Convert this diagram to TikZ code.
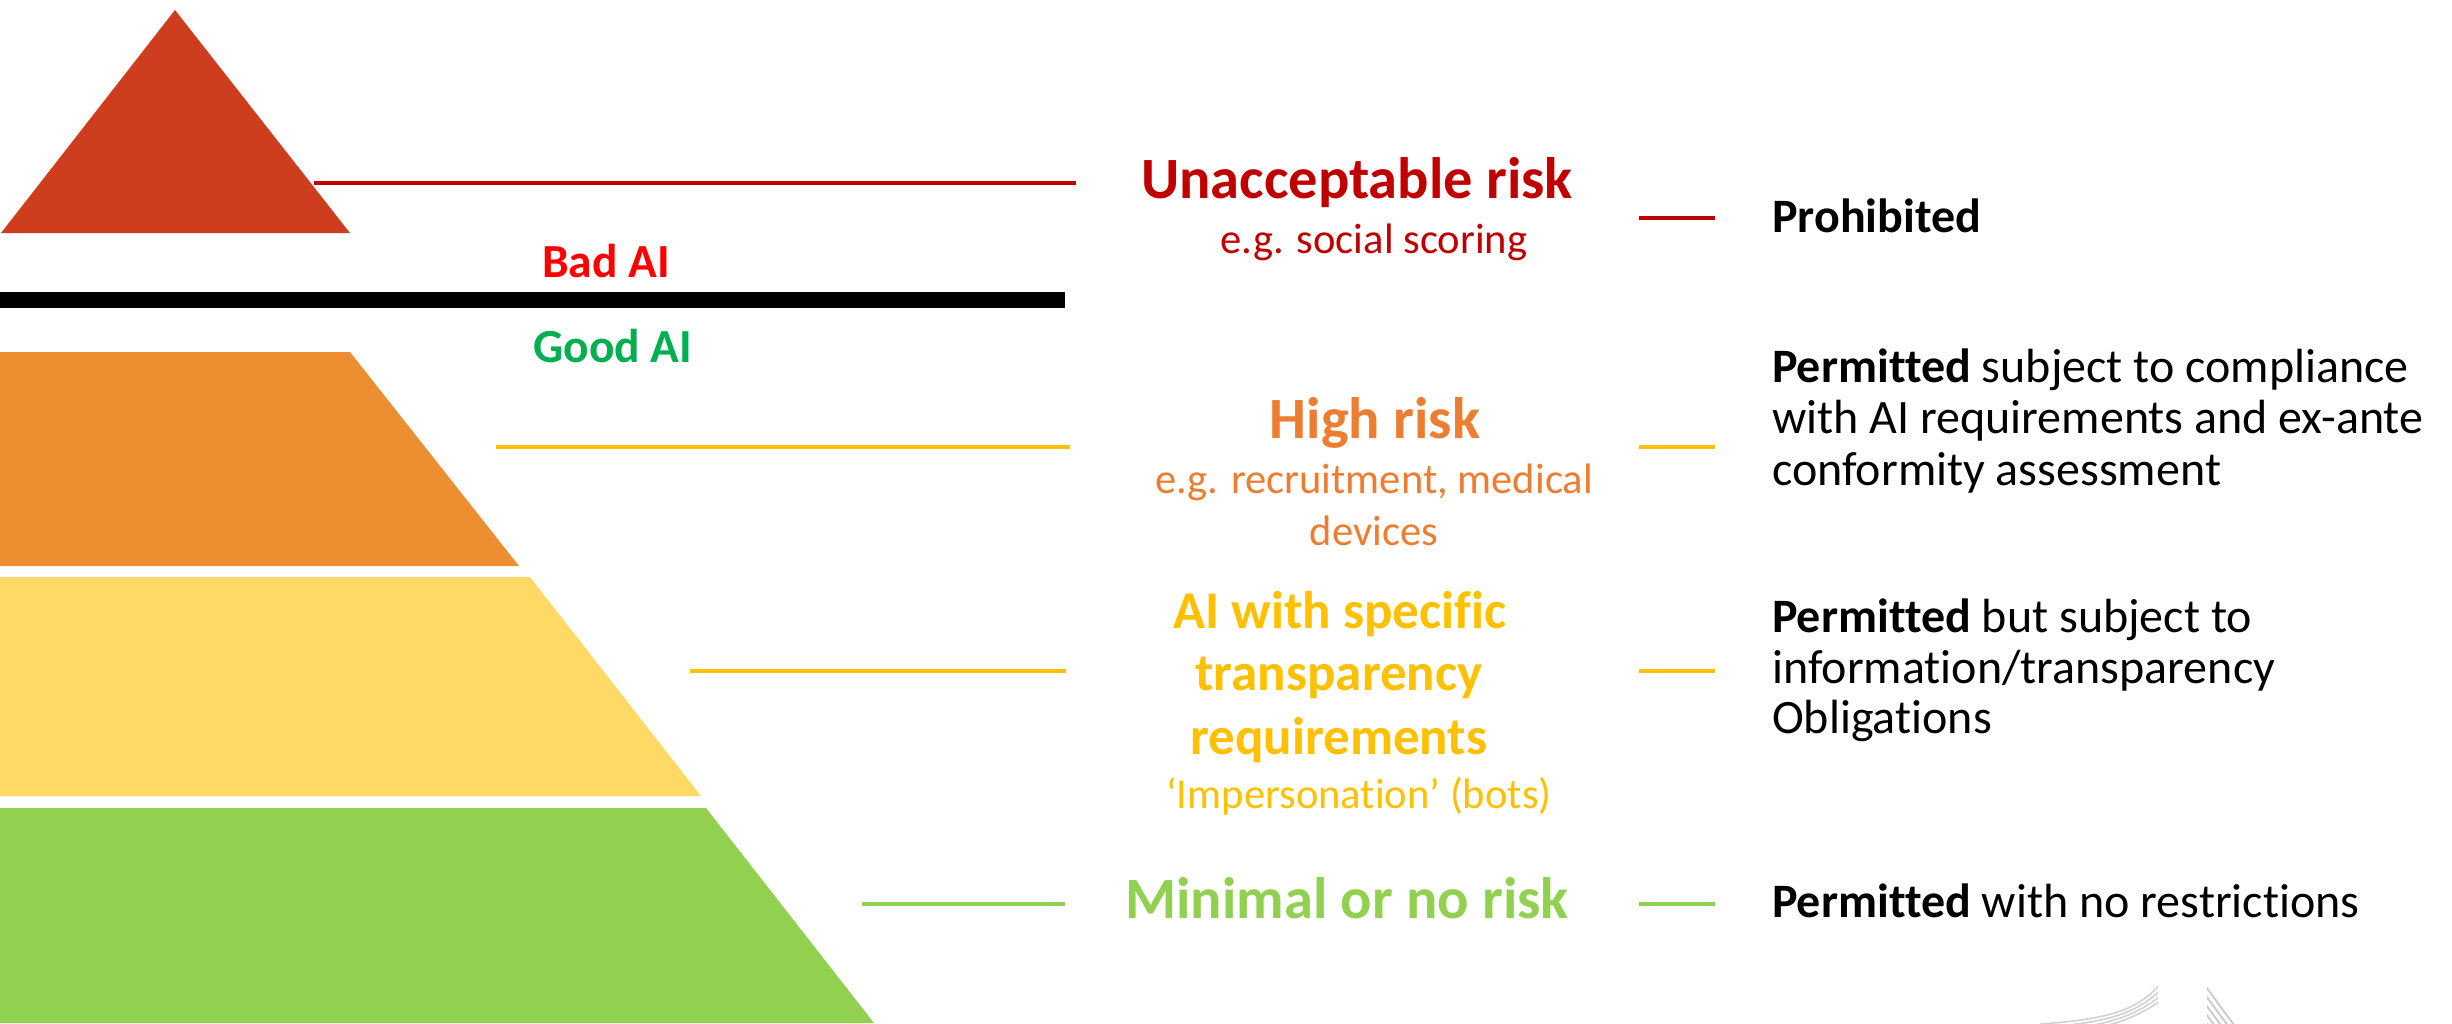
\documentclass[tikz,border=0pt]{standalone}
\usepackage{fontspec}
\setmainfont{Carlito}[Ligatures={NoCommon}]
\definecolor{tri}{RGB}{207,61,31}
\definecolor{darkred}{RGB}{192,0,0}
\definecolor{badred}{RGB}{255,0,0}
\definecolor{goodgreen}{RGB}{0,176,80}
\definecolor{orangefill}{RGB}{237,142,49}
\definecolor{orangetext}{RGB}{237,125,49}
\definecolor{yellowfill}{RGB}{254,217,102}
\definecolor{gold}{RGB}{255,192,0}
\definecolor{lgreen}{RGB}{146,208,80}
\newcommand{\fsz}[1]{\fontsize{#1}{#1}\selectfont}
\begin{document}
\begin{tikzpicture}[x=1pt,y=-1pt,
  txt/.style={inner sep=0pt, anchor=base},
  rtxt/.style={inner sep=0pt, anchor=base west, font=\fsz{48}},
  title/.style={txt, font=\fsz{#1}\bfseries},
  sub/.style={txt, font=\fsz{42.6}},
  link/.style={line width=4pt}]
\useasboundingbox (0,0) rectangle (2452,1023);

% pyramid
\fill[tri] (175,10) -- (350,233) -- (1,233) -- cycle;
\fill[orangefill] (0,352) -- (350,352) -- (519,566) -- (0,566) -- cycle;
\fill[yellowfill] (0,577) -- (530,577) -- (701,796) -- (0,796) -- cycle;
\fill[lgreen] (0,808) -- (706,808) -- (874,1023) -- (0,1023) -- cycle;

% separator
\fill[black] (0,292) rectangle (1065,308);
\node[txt, anchor=base west, font=\fsz{47.5}\bfseries, text=badred] (bad) at (542,277) {Bad AI};
\node[txt, anchor=base west, font=\fsz{47.5}\bfseries, text=goodgreen] (good) at (533,362) {Good AI};

% coordinates for links
\coordinate (l1a) at (314,183); \coordinate (l1b) at (1076,183);
\coordinate (l2a) at (496,447); \coordinate (l2b) at (1070,447);
\coordinate (l3a) at (690,671); \coordinate (l3b) at (1066,671);
\coordinate (l4a) at (862,904); \coordinate (l4b) at (1065,904);
\coordinate (r1a) at (1639,218); \coordinate (r1b) at (1715,218);
\coordinate (r2a) at (1639,447); \coordinate (r2b) at (1715,447);
\coordinate (r3a) at (1639,671); \coordinate (r3b) at (1715,671);
\coordinate (r4a) at (1639,904); \coordinate (r4b) at (1715,904);

\draw[link, darkred] (l1a) -- (l1b);
\draw[link, gold] (l2a) -- (l2b);
\draw[link, gold] (l3a) -- (l3b);
\draw[link, lgreen] (l4a) -- (l4b);
\draw[link, darkred] (r1a) -- (r1b);
\draw[link, gold] (r2a) -- (r2b);
\draw[link, gold] (r3a) -- (r3b);
\draw[link, lgreen] (r4a) -- (r4b);

% middle column
\node[title=58.5, text=darkred] (t1) at (1357,198) {Unacceptable risk};
\node[sub, text=darkred] (s1) at (1374,253) {e.g. social scoring};
\node[title=58.5, text=orangetext] (t2) at (1375,438) {High risk};
\node[sub, text=orangetext] (s2a) at (1374,493) {e.g. recruitment, medical};
\node[sub, text=orangetext] (s2b) at (1374,545) {devices};
\node[title=53, text=gold] (t3a) at (1340,628) {AI with specific};
\node[title=53, text=gold] (t3b) at (1339,690) {transparency};
\node[title=53, text=gold] (t3c) at (1339,754) {requirements};
\node[sub, text=gold] (s3) at (1359,808) {‘Impersonation’ (bots)};
\node[title=58.5, text=lgreen] (t4) at (1347,918) {Minimal or no risk};

% right column
\node[rtxt] (p1) at (1772,232) {\bfseries Prohibited};
\node[rtxt] (p2a) at (1772,382) {\textbf{Permitted} subject to compliance};
\node[rtxt] (p2b) at (1772,433) {with AI requirements and ex-ante};
\node[rtxt] (p2c) at (1772,485) {conformity assessment};
\node[rtxt] (p3a) at (1772,632) {\textbf{Permitted} but subject to};
\node[rtxt] (p3b) at (1772,683) {information/transparency};
\node[rtxt] (p3c) at (1772,733) {Obligations};
\node[rtxt] (p4) at (1772,917) {\textbf{Permitted} with no restrictions};

% faint logo fragment
\begin{scope}
\clip (2030,985) rectangle (2158,1023);
\foreach \k in {0,1,2,3}
  \draw[black!18, line width=1.6pt] (2040+\k*6,1024+\k*3) .. controls (2115,1019+\k*3) and (2140,1008+\k*3) .. (2162+\k*4,982+\k*3);
\end{scope}
\begin{scope}
\clip (2207,985) rectangle (2262,1023);
\foreach \k in {0,1,2,3,4}
  \draw[black!20, line width=2pt] (2198,976+\k*9) -- (2245,1040+\k*9);
\end{scope}
\end{tikzpicture}
\end{document}
